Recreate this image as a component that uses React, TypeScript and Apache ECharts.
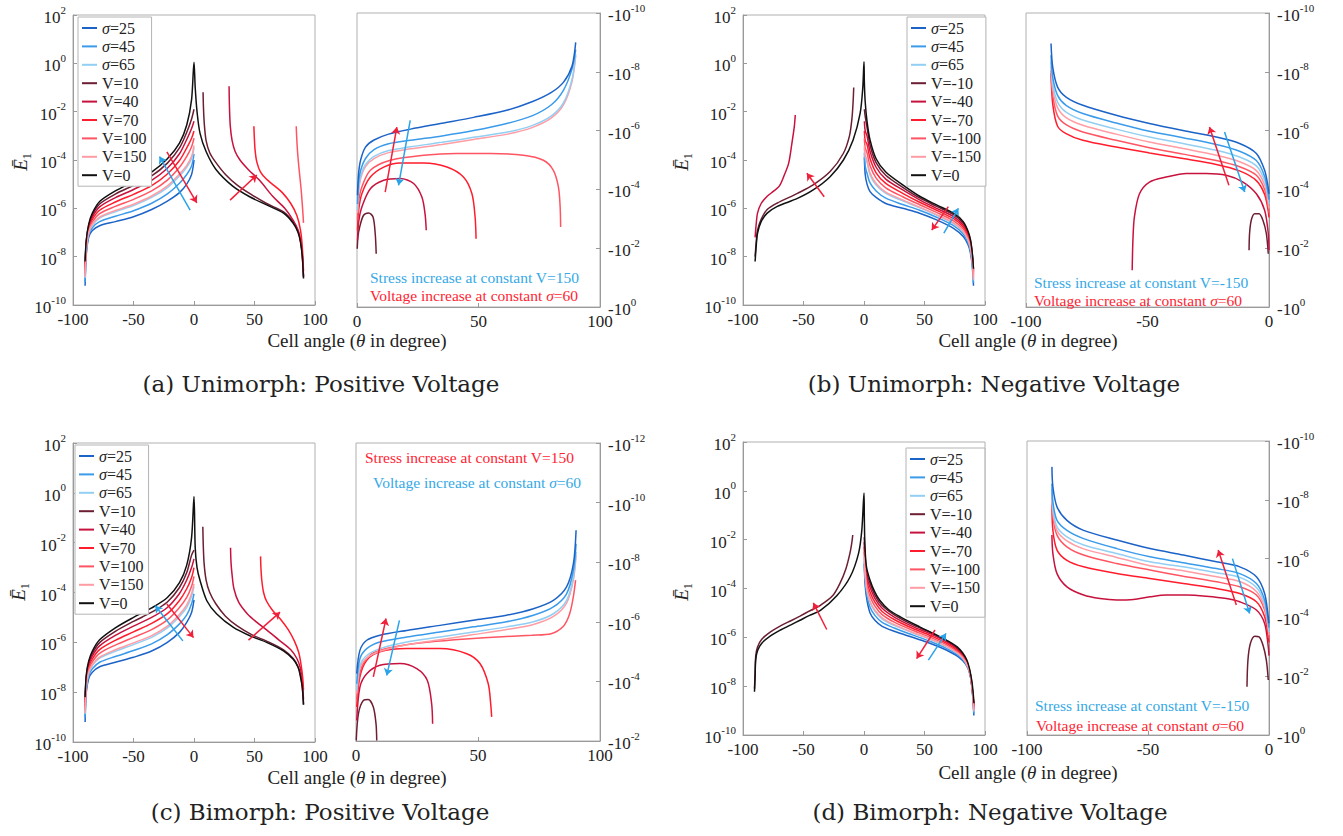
import React, { useEffect, useRef } from 'react';
import * as echarts from 'echarts';

// All curve values are log10 of |E1|.
// ---------------- Panel (a) Unimorph: Positive Voltage, left (E1 > 0) ----------------
const aLX = [-90, -89, -87, -84, -78, -65, -50, -35, -22, -12, -6, -2, 0];
const aL_s25 = [-9.2, -7.9, -7.2, -6.92, -6.72, -6.55, -6.35, -6.05, -5.7, -5.35, -5.0, -4.6, -4.0];
const aL_s45 = [-9.05, -7.8, -7.1, -6.8, -6.55, -6.33, -6.1, -5.79, -5.4, -4.96, -4.6, -4.25, -3.75];
const aL_s65 = [-8.88, -7.71, -7.02, -6.69, -6.4, -6.14, -5.89, -5.55, -5.14, -4.66, -4.3, -3.95, -3.5];
const aL_V150 = [-8.84, -7.68, -7.0, -6.66, -6.36, -6.09, -5.83, -5.49, -5.07, -4.58, -4.22, -3.85, -3.4];
const aL_V100 = [-8.7, -7.6, -6.93, -6.56, -6.22, -5.92, -5.63, -5.28, -4.83, -4.3, -3.85, -3.45, -3.1];
const aL_V70 = [-8.56, -7.52, -6.85, -6.46, -6.08, -5.74, -5.42, -5.06, -4.58, -4.02, -3.5, -3.1, -2.8];
const aL_V40 = [-8.42, -7.43, -6.77, -6.36, -5.94, -5.56, -5.22, -4.84, -4.34, -3.74, -3.15, -2.7, -2.4];
const aL_V10 = [-8.3, -7.36, -6.71, -6.27, -5.82, -5.41, -5.05, -4.66, -4.13, -3.5, -2.85, -2.3, -1.9];
const aV0X = [-90, -89, -87, -84, -78, -65, -50, -35, -22, -12, -6, -2, 0, 1, 2.5, 5, 10, 18, 32, 46, 60, 74, 82, 86, 88, 89.5, 90.5];
const aV0Y = [-8.2, -7.3, -6.65, -6.2, -5.72, -5.28, -4.9, -4.5, -3.95, -3.3, -2.55, -1.5, 0.05, -1.0, -2.0, -2.9, -3.65, -4.38, -5.08, -5.52, -5.86, -6.2, -6.62, -7.0, -7.4, -8.0, -8.9];
const aR_V10X = [7.5, 7.8, 8.5, 10, 13, 18, 26, 36, 48, 60, 74, 82, 86, 88, 89.5, 90.5];
const aR_V10Y = [-1.2, -1.8, -2.5, -3.2, -3.7, -4.1, -4.6, -5.05, -5.45, -5.8, -6.15, -6.57, -6.95, -7.35, -7.95, -8.85];
const aR_V40X = [29, 29.3, 30, 31.5, 34, 38, 45, 54, 65, 75, 82, 86, 88, 89.5, 90.5];
const aR_V40Y = [-0.95, -1.8, -2.6, -3.2, -3.65, -4.0, -4.4, -4.83, -5.5, -6.0, -6.5, -6.9, -7.3, -7.9, -8.8];
const aR_V70X = [49.5, 49.8, 50.5, 52, 55, 60, 66, 73, 80, 85, 88, 89.5, 90.5];
const aR_V70Y = [-2.6, -3.0, -3.6, -4.1, -4.5, -4.8, -5.05, -5.35, -5.8, -6.3, -6.9, -7.6, -8.6];
const aR_V100X = [84.5, 84.8, 85.5, 86.5, 87.5, 88.5, 89.3, 90, 90.5];
const aR_V100Y = [-2.6, -3.0, -3.6, -4.2, -4.7, -5.2, -5.7, -6.2, -6.6];
const aLeftArrows = [[-3.2, -6.07, -28.5, -3.86, 'b'], [-22.4, -3.66, 2.3, -5.77, 'r'], [29.8, -5.66, 51.9, -4.62, 'r']];

// ---------------- Panel (a) right (E1 < 0) ----------------
const arX = [0.2, 0.6, 1.5, 3.5, 7, 13, 22, 35, 48, 62, 72, 80, 85, 88.5, 90];
const ar_s25 = [-3.8, -4.5, -5.0, -5.44, -5.68, -5.88, -6.05, -6.25, -6.45, -6.7, -6.98, -7.3, -7.65, -8.2, -9.0];
const ar_s45 = [-3.5, -4.2, -4.65, -5.05, -5.35, -5.55, -5.67, -5.82, -6.0, -6.25, -6.5, -6.88, -7.38, -8.1, -8.75];
const ar_s65 = [-3.3, -3.95, -4.45, -4.85, -5.12, -5.32, -5.45, -5.6, -5.77, -5.95, -6.17, -6.5, -6.95, -7.75, -8.6];
const ar_V150 = [-3.2, -3.85, -4.37, -4.78, -5.05, -5.25, -5.38, -5.53, -5.7, -5.88, -6.1, -6.43, -6.88, -7.68, -8.55];
const ar_V100X = [0.2, 0.7, 2, 5.5, 13.7, 27.4, 41, 54.8, 68.5, 76.7, 80.8, 82.9, 83.6, 83.8];
const ar_V100Y = [-2.95, -3.6, -4.08, -4.65, -4.99, -5.16, -5.22, -5.22, -5.16, -4.99, -4.65, -4.08, -3.4, -2.72];
const ar_V70X = [0.2, 0.7, 2, 5.5, 11, 17.8, 27.4, 37, 43.8, 47.3, 48.6, 49];
const ar_V70Y = [-2.6, -3.3, -3.85, -4.42, -4.76, -4.9, -4.9, -4.76, -4.42, -3.85, -3.06, -2.32];
const ar_V40X = [0.2, 0.7, 2, 5.5, 11, 17.8, 23.3, 26.7, 28, 28.5];
const ar_V40Y = [-2.27, -2.9, -3.4, -4.02, -4.31, -4.37, -4.2, -3.74, -3.17, -2.61];
const ar_V10X = [0.1, 0.4, 1.1, 2.7, 4.8, 6.6, 7.5, 7.9];
const ar_V10Y = [-1.98, -2.4, -2.72, -3.12, -3.2, -3.06, -2.49, -1.81];
const aRightArrows = [[11.6, -3.91, 16.4, -6.12, 'r'], [21.9, -6.35, 17.1, -4.14, 'b']];

// ---------------- Panel (b) Unimorph: Negative Voltage, left ----------------
const bV0X = [-90, -89, -88, -85, -80, -72, -55, -42, -28, -17, -9, -3.2, -1, 0, 0.3, 1, 2.5, 5, 10, 18, 32, 46, 60, 74, 82, 86, 88, 89.5, 90.5];
const bV0Y = [-8.2, -7.5, -7.03, -6.55, -6.2, -5.93, -5.59, -5.24, -4.69, -4.0, -3.17, -2.07, -1.0, 0.07, -0.8, -1.6, -2.4, -3.17, -3.95, -4.5, -5.03, -5.5, -5.86, -6.2, -6.55, -6.95, -7.3, -7.85, -8.5];
const bL_V10X = [-90, -89, -88, -85, -80, -72, -55, -42, -28, -17, -12, -10, -9, -8.5];
const bL_V10Y = [-8.0, -7.35, -6.9, -6.45, -6.05, -5.79, -5.38, -5.03, -4.48, -3.72, -3.0, -2.3, -1.6, -1.0];
const bL_V40X = [-90, -89, -88, -85, -80, -75, -70, -66.4, -62.3, -59.6, -57.6, -56.8];
const bL_V40Y = [-7.2, -6.6, -6.2, -5.8, -5.5, -5.3, -5.08, -4.69, -4.14, -3.31, -2.62, -2.14];
const bRX = [0.3, 1, 2.5, 5, 10, 18, 32, 46, 60, 74, 82, 86, 88, 89.5, 90.5];
const bR_V10 = [-1.9, -2.2, -2.65, -3.38, -4.11, -4.63, -5.13, -5.57, -5.92, -6.26, -6.61, -7.0, -7.35, -7.9, -8.57];
const bR_V40 = [-2.4, -2.8, -3.0, -3.64, -4.3, -4.79, -5.24, -5.65, -6.0, -6.34, -6.69, -7.07, -7.42, -7.97, -8.65];
const bR_V70 = [-2.8, -3.2, -3.35, -3.94, -4.53, -4.97, -5.38, -5.75, -6.08, -6.43, -6.77, -7.15, -7.5, -8.05, -8.75];
const bR_V100 = [-3.1, -3.5, -3.7, -4.24, -4.75, -5.15, -5.52, -5.85, -6.17, -6.52, -6.86, -7.23, -7.58, -8.13, -8.85];
const bR_V150 = [-3.4, -3.8, -4.0, -4.54, -4.97, -5.33, -5.65, -5.95, -6.26, -6.6, -6.95, -7.3, -7.65, -8.2, -8.95];
const bR_s65 = [-3.5, -3.9, -4.1, -4.62, -5.04, -5.38, -5.69, -5.98, -6.28, -6.63, -6.97, -7.32, -7.67, -8.22, -8.98];
const bR_s45 = [-3.7, -4.25, -4.55, -4.95, -5.28, -5.58, -5.84, -6.08, -6.37, -6.72, -7.06, -7.41, -7.76, -8.31, -9.08];
const bR_s25 = [-3.9, -4.6, -5.0, -5.31, -5.55, -5.8, -6.0, -6.2, -6.48, -6.83, -7.17, -7.5, -7.85, -8.4, -9.2];
const bLeftArrows = [[-32.9, -5.52, -47.2, -4.55, 'r'], [69.7, -5.93, 56, -6.9, 'r'], [66, -7.03, 78, -6.0, 'b']];

// ---------------- Panel (b) right ----------------
const brX = [-89.7, -89, -87, -83.5, -76.6, -62.9, -49.2, -35.4, -21.7, -12.1, -5.2, -1.8, -0.4, 0];
const br_s25 = [-8.96, -8.16, -7.48, -7.14, -6.86, -6.52, -6.24, -6.0, -5.78, -5.56, -5.22, -4.65, -4.1, -3.85];
const br_s45 = [-8.56, -7.82, -7.2, -6.86, -6.58, -6.26, -5.98, -5.76, -5.53, -5.3, -4.98, -4.45, -3.9, -3.65];
const br_s65 = [-8.35, -7.6, -6.97, -6.63, -6.36, -6.05, -5.78, -5.56, -5.33, -5.1, -4.8, -4.3, -3.75, -3.5];
const br_V150 = [-8.2, -7.43, -6.78, -6.44, -6.18, -5.88, -5.61, -5.39, -5.16, -4.94, -4.64, -4.15, -3.6, -3.35];
const br_V100 = [-8.05, -7.2, -6.5, -6.2, -5.95, -5.67, -5.42, -5.2, -4.98, -4.77, -4.48, -4.0, -3.45, -3.2];
const br_V70 = [-7.95, -6.9, -6.15, -5.9, -5.67, -5.44, -5.24, -5.05, -4.85, -4.63, -4.3, -3.83, -3.3, -3.05];
const br_V40X = [-56.3, -56, -55.4, -53.3, -49.2, -42.3, -34, -25.8, -17.6, -10.7, -5.2, -1.8, -0.3, 0];
const br_V40Y = [-1.25, -2.27, -3.06, -3.85, -4.25, -4.42, -4.54, -4.54, -4.48, -4.25, -3.85, -3.29, -2.5, -1.93];
const br_V10X = [-8.2, -8, -7.3, -5.9, -4.1, -2.5, -1.1, -0.3];
const br_V10Y = [-1.93, -2.5, -2.95, -3.17, -3.17, -2.95, -2.5, -1.81];
const bRightArrows = [[-16.5, -4.14, -24.5, -6.12, 'r'], [-18.3, -5.95, -10, -3.91, 'b']];

// ---------------- Panel (c) Bimorph: Positive Voltage, left ----------------
const cLX = [-90, -89, -87, -84, -78, -65, -50, -35, -22, -12, -6, -2, 0];
const cL_s25 = [-9.2, -8.0, -7.45, -7.2, -6.98, -6.8, -6.6, -6.35, -6.0, -5.6, -5.2, -4.8, -4.3];
const cL_s45 = [-9.03, -7.88, -7.33, -7.06, -6.8, -6.57, -6.33, -6.06, -5.69, -5.26, -4.9, -4.45, -4.05];
const cL_s65 = [-8.88, -7.78, -7.23, -6.93, -6.63, -6.36, -6.09, -5.8, -5.42, -4.96, -4.6, -4.15, -3.75];
const cL_V150 = [-8.84, -7.75, -7.2, -6.9, -6.59, -6.3, -6.02, -5.73, -5.35, -4.88, -4.5, -4.05, -3.65];
const cL_V100 = [-8.7, -7.65, -7.1, -6.78, -6.44, -6.11, -5.8, -5.49, -5.1, -4.6, -4.2, -3.75, -3.35];
const cL_V70 = [-8.56, -7.55, -7.0, -6.66, -6.29, -5.92, -5.58, -5.24, -4.85, -4.32, -3.85, -3.4, -3.0];
const cL_V40 = [-8.42, -7.45, -6.9, -6.54, -6.14, -5.72, -5.35, -5.0, -4.6, -4.04, -3.5, -3.0, -2.65];
const cL_V10 = [-8.3, -7.37, -6.82, -6.44, -6.01, -5.56, -5.16, -4.79, -4.38, -3.8, -3.2, -2.5, -2.3];
const cV0X = [-90, -89, -87, -84, -78, -65, -50, -35, -22, -12, -6, -2, 0, 1, 2.5, 5, 10.6, 18.8, 32.6, 46.4, 60, 73.9, 82, 86, 87.6, 89.5, 90.5];
const cV0Y = [-8.2, -7.3, -6.75, -6.35, -5.9, -5.42, -5.0, -4.62, -4.2, -3.6, -2.9, -1.8, -0.15, -2.2, -3.0, -3.52, -4.33, -4.86, -5.4, -5.74, -6.0, -6.34, -6.68, -7.0, -7.29, -7.8, -8.5];
const cR_V10X = [7.3, 7.6, 8.3, 10, 13, 18, 26, 36, 48, 60, 74, 82, 86, 88, 89.5, 90.5];
const cR_V10Y = [-1.36, -2.0, -2.8, -3.5, -4.0, -4.45, -4.95, -5.35, -5.7, -5.95, -6.3, -6.65, -6.98, -7.3, -7.8, -8.5];
const cR_V40X = [30.2, 30.6, 31.5, 33, 37, 44, 52, 60, 70, 80, 85, 88, 89.5, 90.5];
const cR_V40Y = [-2.2, -2.8, -3.3, -3.85, -4.4, -4.85, -5.2, -5.5, -5.9, -6.3, -6.65, -7.05, -7.6, -8.3];
const cR_V70X = [55, 55.3, 56, 57.5, 60, 65, 72, 78, 83, 86.5, 88.5, 89.8, 90.5];
const cR_V70Y = [-2.55, -3.0, -3.5, -4.0, -4.35, -4.72, -5.1, -5.5, -5.95, -6.4, -6.9, -7.4, -7.9];
const cLeftArrows = [[-9.2, -5.94, -32, -4.53, 'b'], [-22.4, -4.46, -0.4, -5.81, 'r'], [45, -5.91, 71.1, -4.79, 'r']];

// ---------------- Panel (c) right ----------------
const crX = [0.3, 1.6, 4.4, 9.8, 20.8, 34.4, 48.1, 61.7, 72.7, 80.9, 86.3, 89.1, 90.2];
const cr_s25 = [-4.26, -5.04, -5.38, -5.55, -5.71, -5.88, -6.05, -6.22, -6.44, -6.72, -7.17, -7.95, -9.07];
const cr_s45 = [-3.92, -4.76, -5.1, -5.32, -5.49, -5.66, -5.83, -6.0, -6.22, -6.5, -6.94, -7.73, -8.62];
const cr_s65 = [-3.7, -4.54, -4.87, -5.1, -5.32, -5.49, -5.66, -5.83, -6.0, -6.27, -6.72, -7.5, -8.34];
const cr_V150 = [-3.6, -4.45, -4.78, -5.01, -5.23, -5.4, -5.57, -5.74, -5.91, -6.18, -6.63, -7.41, -8.25];
const cr_V100X = [0.3, 1.5, 3, 6, 10, 20, 30, 45, 60, 72, 80, 85, 87.5, 89, 90];
const cr_V100Y = [-3.4, -4.25, -4.6, -4.9, -5.05, -5.22, -5.32, -5.42, -5.5, -5.55, -5.6, -5.85, -6.25, -6.8, -7.4];
const cr_V70X = [0.3, 1.6, 4.4, 9.8, 20.8, 34.4, 45.4, 50.8, 54.2, 55.2, 55.6];
const cr_V70Y = [-3.14, -4.15, -4.71, -4.99, -5.1, -5.1, -4.93, -4.6, -3.92, -3.25, -2.81];
const cr_V40X = [0.3, 1.6, 4.4, 9.8, 18, 24.9, 29.2, 31, 31.4];
const cr_V40Y = [-2.69, -3.81, -4.26, -4.54, -4.6, -4.43, -4.04, -3.25, -2.58];
const cr_V10X = [0.1, 1, 3, 5, 7.1, 8.2, 8.5];
const cr_V10Y = [-2.02, -2.92, -3.36, -3.39, -3.14, -2.58, -2.02];
const cRightArrows = [[7.1, -4.15, 12.3, -6.11, 'r'], [17.8, -6.05, 12.6, -4.2, 'b']];

// ---------------- Panel (d) Bimorph: Negative Voltage, left ----------------
const dV0X = [-90.5, -90, -89.5, -88, -84.5, -77, -69, -60, -52.9, -45, -36, -22.5, -11.4, -4.5, -1.8, 0, 0.3, 0.8, 2, 5, 9, 13, 20, 30, 46, 63, 77, 85, 89, 90.9];
const dV0Y = [-8.23, -7.6, -6.93, -6.55, -6.24, -5.93, -5.7, -5.48, -5.3, -5.1, -4.9, -4.3, -3.52, -2.56, -1.61, -0.09, -1.2, -2.29, -3.1, -3.66, -4.15, -4.48, -4.85, -5.16, -5.57, -5.98, -6.39, -6.93, -7.75, -8.7];
const dL_V10X = [-90.5, -90, -89.5, -88, -84.5, -77, -69, -60, -52.9, -45, -36.4, -26, -19.8, -15, -11.6, -10, -9.3];
const dL_V10Y = [-8.1, -7.45, -6.78, -6.4, -6.08, -5.77, -5.53, -5.31, -5.13, -4.92, -4.7, -4.3, -3.78, -3.2, -2.55, -2.1, -1.81];
const dRX = [0.2, 1, 2.5, 5, 9, 15, 25, 40, 55, 68, 78, 84, 87.5, 89.5, 90.8];
const dR_V10 = [-1.9, -2.73, -3.42, -3.79, -4.27, -4.7, -5.08, -5.48, -5.8, -6.13, -6.49, -6.88, -7.41, -8.11, -8.75];
const dR_V40 = [-2.1, -2.9, -3.56, -3.95, -4.4, -4.81, -5.17, -5.55, -5.86, -6.18, -6.53, -6.91, -7.42, -8.12, -8.81];
const dR_V70 = [-2.3, -3.07, -3.73, -4.14, -4.56, -4.94, -5.27, -5.63, -5.93, -6.24, -6.58, -6.94, -7.44, -8.14, -8.88];
const dR_V100 = [-2.5, -3.25, -3.9, -4.33, -4.72, -5.07, -5.38, -5.71, -6.0, -6.3, -6.63, -6.98, -7.45, -8.15, -8.95];
const dR_V150 = [-2.7, -3.43, -4.07, -4.52, -4.89, -5.2, -5.48, -5.79, -6.07, -6.37, -6.67, -7.01, -7.46, -8.16, -9.02];
const dR_s65 = [-2.75, -3.48, -4.12, -4.57, -4.93, -5.25, -5.51, -5.81, -6.09, -6.38, -6.69, -7.02, -7.47, -8.17, -9.04];
const dR_s45 = [-2.9, -3.68, -4.3, -4.77, -5.1, -5.39, -5.62, -5.9, -6.17, -6.45, -6.74, -7.06, -7.48, -8.18, -9.12];
const dR_s25 = [-3.0, -3.9, -4.5, -5.0, -5.3, -5.55, -5.75, -6.0, -6.25, -6.52, -6.8, -7.1, -7.5, -8.2, -9.2];
const dLeftArrows = [[-30.8, -5.68, -41.9, -4.59, 'r'], [58.7, -5.7, 43.5, -6.87, 'r'], [53.2, -6.93, 67.8, -5.84, 'b']];

// ---------------- Panel (d) right ----------------
const drX = [-89.7, -89.3, -87.6, -83.5, -76.6, -62.9, -49.2, -35.4, -21.7, -12.1, -5.2, -1.8, -0.3, 0];
const dr_s25 = [-9.12, -8.44, -7.76, -7.3, -6.96, -6.63, -6.34, -6.12, -5.89, -5.72, -5.38, -4.81, -4.02, -3.8];
const dr_s45 = [-8.55, -7.93, -7.3, -6.96, -6.68, -6.34, -6.06, -5.86, -5.66, -5.49, -5.15, -4.59, -3.85, -3.65];
const dr_s65 = [-8.38, -7.7, -7.08, -6.74, -6.46, -6.17, -5.89, -5.72, -5.52, -5.36, -5.02, -4.47, -3.74, -3.5];
const dr_V150 = [-8.24, -7.57, -6.95, -6.6, -6.33, -6.04, -5.76, -5.59, -5.38, -5.22, -4.88, -4.34, -3.6, -3.4];
const dr_V100 = [-8.1, -7.42, -6.8, -6.4, -6.12, -5.83, -5.61, -5.4, -5.21, -5.04, -4.76, -4.25, -3.57, -3.3];
const dr_V70 = [-7.87, -6.96, -6.29, -5.94, -5.72, -5.49, -5.32, -5.15, -4.98, -4.81, -4.53, -4.02, -3.34, -3.15];
const dr_V40X = [-89.7, -89.3, -87.6, -83.5, -76.6, -69.8, -62.9, -56, -49.2, -42.3, -34, -26, -17.6, -12.1, -5.2, -1.8, -0.3, 0];
const dr_V40Y = [-6.8, -6.17, -5.49, -5.04, -4.76, -4.64, -4.59, -4.61, -4.7, -4.76, -4.76, -4.72, -4.64, -4.53, -4.25, -3.79, -3.0, -2.7];
const dr_V10X = [-9.1, -8.7, -7.7, -5.9, -4.1, -2.5, -1.1, -0.3];
const dr_V10Y = [-1.64, -2.55, -3.11, -3.36, -3.34, -3.06, -2.55, -1.87];
const dRightArrows = [[-13.5, -4.42, -21, -6.29, 'r'], [-15.1, -6.0, -8, -4.13, 'b']];

const posNames = ['σ=25', 'σ=45', 'σ=65', 'V=10', 'V=40', 'V=70', 'V=100', 'V=150', 'V=0'];
const negNames = ['σ=25', 'σ=45', 'σ=65', 'V=-10', 'V=-40', 'V=-70', 'V=-100', 'V=-150', 'V=0'];
const xTicksLeft = [-100, 100];
const xTicksRightPos = [0, 100];
const xTicksRightNeg = [-100, 0];

const F = "'Liberation Serif', 'Times New Roman', serif";
const COL: Record<string, string> = {
  s25: '#1c63c8', s45: '#3a9bea', s65: '#92cff3',
  V10: '#6c1e32', V40: '#c8123e', V70: '#ff1c2c', V100: '#ff5563', V150: '#ff9ca4', V0: '#111111',
};
const ARROW_B = '#2aa3e8';
const ARROW_R = '#f0203a';
const TXT_B = '#36a9e6';
const TXT_R = '#ff2433';

function line(g: number, name: string, key: string, xs: number[], ys: number[]) {
  return {
    type: 'line', name, xAxisIndex: g, yAxisIndex: g,
    data: xs.map((x, i) => [x, ys[i]]),
    symbol: 'none', smooth: 0.3, silent: true,
    lineStyle: { width: 1.5, color: COL[key] }, itemStyle: { color: COL[key] },
  };
}
function arrows(g: number, list: any[]) {
  return {
    type: 'lines', coordinateSystem: 'cartesian2d', xAxisIndex: g, yAxisIndex: g,
    symbol: ['none', 'arrow'], symbolSize: 7, silent: true, z: 5,
    lineStyle: { width: 1.5, opacity: 1 },
    data: list.map((a) => ({
      coords: [[a[0], a[1]], [a[2], a[3]]],
      lineStyle: { color: a[4] === 'b' ? ARROW_B : ARROW_R, width: 1.5, opacity: 1 },
    })),
  };
}

const supRich = {
  b: { fontFamily: F, fontSize: 17, color: '#222', lineHeight: 22, verticalAlign: 'bottom' },
  s: { fontFamily: F, fontSize: 11, color: '#222', lineHeight: 12, verticalAlign: 'top' },
};
const axLine = { show: true, onZero: false, lineStyle: { color: '#9a9a9a', width: 1 } };
const axTick = { show: true, inside: true, length: 4, lineStyle: { color: '#9a9a9a' } };

function xAxis(g: number, range: number[]) {
  return {
    type: 'value', gridIndex: g, min: range[0], max: range[1], interval: 50,
    axisLine: axLine, axisTick: axTick, splitLine: { show: false },
    axisLabel: { color: '#222', fontFamily: F, fontSize: 17, margin: 6 },
  };
}
function yLeft(g: number) {
  return {
    type: 'value', gridIndex: g, min: -10, max: 2, interval: 2,
    axisLine: axLine, axisTick: axTick, splitLine: { show: false },
    axisLabel: { formatter: (v: number) => `{b|10}{s|${v}}`, rich: supRich, margin: 7 },
  };
}
function yRight(g: number, min: number, max: number) {
  return {
    type: 'value', gridIndex: g, min, max, interval: 2, inverse: true, position: 'right',
    axisLine: axLine, axisTick: axTick, splitLine: { show: false },
    axisLabel: { formatter: (v: number) => `{b|-10}{s|${v}}`, rich: supRich, margin: 8 },
  };
}

function legend(left: number, top: number, names: string[]) {
  return {
    left, top, orient: 'vertical', data: names, selectedMode: false,
    icon: 'rect', itemWidth: 15, itemHeight: 2, itemGap: 2.4,
    padding: [3, 5, 3, 4], borderColor: '#b4b4b4', borderWidth: 1, backgroundColor: '#ffffff',
    textStyle: {
      fontFamily: F, fontSize: 16, color: '#222', lineHeight: 16,
      rich: { i: { fontFamily: F, fontSize: 16, fontStyle: 'italic', color: '#222', lineHeight: 16 } },
    },
    formatter: (n: string) => (n.startsWith('σ') ? '{i|σ}' + n.slice(1) : n),
  };
}

function text(x: number, y: number, t: string, opts: any = {}) {
  return {
    type: 'text', x, y, silent: true, z: 10,
    style: {
      text: t, fill: opts.fill || '#222', fontFamily: opts.fontFamily || F, fontSize: opts.fontSize || 19,
      align: opts.align || 'center', verticalAlign: 'middle',
      rich: {
        i: { fontStyle: 'italic', fontFamily: F, fontSize: opts.fontSize || 19, fill: opts.fill || '#222' },
      },
    },
  };
}
function yName(x: number, y: number) {
  return {
    type: 'text', x, y, rotation: Math.PI / 2, silent: true,
    style: {
      text: '{e|Ē}{s|1}', align: 'center', verticalAlign: 'middle',
      rich: {
        e: { fontFamily: F, fontStyle: 'italic', fontSize: 19, fill: '#222', lineHeight: 22, verticalAlign: 'top' },
        s: { fontFamily: F, fontSize: 12, fill: '#222', lineHeight: 14, verticalAlign: 'bottom' },
      },
    },
  };
}

function buildOption() {
  const grids = [
    { left: 73, top: 15, width: 242, height: 290 },
    { left: 357, top: 13, width: 243, height: 294 },
    { left: 743, top: 15, width: 242, height: 290 },
    { left: 1026, top: 13, width: 243, height: 294 },
    { left: 73, top: 443, width: 242, height: 299 },
    { left: 356, top: 443, width: 244, height: 298 },
    { left: 743, top: 442, width: 242, height: 293 },
    { left: 1027, top: 441, width: 242, height: 294 },
  ].map((g) => ({ ...g, show: true, borderColor: '#b0b0b0', borderWidth: 1, backgroundColor: 'transparent' }));

  const xAxes = [
    xAxis(0, xTicksLeft), xAxis(1, xTicksRightPos), xAxis(2, xTicksLeft), xAxis(3, xTicksRightNeg),
    xAxis(4, xTicksLeft), xAxis(5, xTicksRightPos), xAxis(6, xTicksLeft), xAxis(7, xTicksRightNeg),
  ];
  const yAxes = [
    yLeft(0), yRight(1, -10, 0), yLeft(2), yRight(3, -10, 0),
    yLeft(4), yRight(5, -12, -2), yLeft(6), yRight(7, -10, 0),
  ];

  const P = posNames;
  const N = negNames;
  const series: any[] = [
    // (a) left
    line(0, P[0], 's25', aLX, aL_s25), line(0, P[1], 's45', aLX, aL_s45), line(0, P[2], 's65', aLX, aL_s65),
    line(0, P[3], 'V10', aLX, aL_V10), line(0, P[4], 'V40', aLX, aL_V40), line(0, P[5], 'V70', aLX, aL_V70),
    line(0, P[6], 'V100', aLX, aL_V100), line(0, P[7], 'V150', aLX, aL_V150),
    line(0, P[3], 'V10', aR_V10X, aR_V10Y), line(0, P[4], 'V40', aR_V40X, aR_V40Y),
    line(0, P[5], 'V70', aR_V70X, aR_V70Y), line(0, P[6], 'V100', aR_V100X, aR_V100Y),
    line(0, P[8], 'V0', aV0X, aV0Y),
    arrows(0, aLeftArrows),
    // (a) right
    line(1, P[3], 'V10', ar_V10X, ar_V10Y), line(1, P[4], 'V40', ar_V40X, ar_V40Y),
    line(1, P[5], 'V70', ar_V70X, ar_V70Y), line(1, P[6], 'V100', ar_V100X, ar_V100Y),
    line(1, P[7], 'V150', arX, ar_V150), line(1, P[2], 's65', arX, ar_s65),
    line(1, P[1], 's45', arX, ar_s45), line(1, P[0], 's25', arX, ar_s25),
    arrows(1, aRightArrows),
    // (b) left
    line(2, N[0], 's25', bRX, bR_s25), line(2, N[1], 's45', bRX, bR_s45), line(2, N[2], 's65', bRX, bR_s65),
    line(2, N[3], 'V10', bRX, bR_V10), line(2, N[4], 'V40', bRX, bR_V40), line(2, N[5], 'V70', bRX, bR_V70),
    line(2, N[6], 'V100', bRX, bR_V100), line(2, N[7], 'V150', bRX, bR_V150),
    line(2, N[4], 'V40', bL_V40X, bL_V40Y), line(2, N[3], 'V10', bL_V10X, bL_V10Y),
    line(2, N[8], 'V0', bV0X, bV0Y),
    arrows(2, bLeftArrows),
    // (b) right
    line(3, N[3], 'V10', br_V10X, br_V10Y), line(3, N[4], 'V40', br_V40X, br_V40Y),
    line(3, N[5], 'V70', brX, br_V70), line(3, N[6], 'V100', brX, br_V100),
    line(3, N[7], 'V150', brX, br_V150), line(3, N[2], 's65', brX, br_s65),
    line(3, N[1], 's45', brX, br_s45), line(3, N[0], 's25', brX, br_s25),
    arrows(3, bRightArrows),
    // (c) left
    line(4, P[0], 's25', cLX, cL_s25), line(4, P[1], 's45', cLX, cL_s45), line(4, P[2], 's65', cLX, cL_s65),
    line(4, P[3], 'V10', cLX, cL_V10), line(4, P[4], 'V40', cLX, cL_V40), line(4, P[5], 'V70', cLX, cL_V70),
    line(4, P[6], 'V100', cLX, cL_V100), line(4, P[7], 'V150', cLX, cL_V150),
    line(4, P[3], 'V10', cR_V10X, cR_V10Y), line(4, P[4], 'V40', cR_V40X, cR_V40Y),
    line(4, P[5], 'V70', cR_V70X, cR_V70Y),
    line(4, P[8], 'V0', cV0X, cV0Y),
    arrows(4, cLeftArrows),
    // (c) right
    line(5, P[3], 'V10', cr_V10X, cr_V10Y), line(5, P[4], 'V40', cr_V40X, cr_V40Y),
    line(5, P[5], 'V70', cr_V70X, cr_V70Y), line(5, P[6], 'V100', cr_V100X, cr_V100Y),
    line(5, P[7], 'V150', crX, cr_V150), line(5, P[2], 's65', crX, cr_s65),
    line(5, P[1], 's45', crX, cr_s45), line(5, P[0], 's25', crX, cr_s25),
    arrows(5, cRightArrows),
    // (d) left
    line(6, N[0], 's25', dRX, dR_s25), line(6, N[1], 's45', dRX, dR_s45), line(6, N[2], 's65', dRX, dR_s65),
    line(6, N[3], 'V10', dRX, dR_V10), line(6, N[4], 'V40', dRX, dR_V40), line(6, N[5], 'V70', dRX, dR_V70),
    line(6, N[6], 'V100', dRX, dR_V100), line(6, N[7], 'V150', dRX, dR_V150),
    line(6, N[3], 'V10', dL_V10X, dL_V10Y),
    line(6, N[8], 'V0', dV0X, dV0Y),
    arrows(6, dLeftArrows),
    // (d) right
    line(7, N[3], 'V10', dr_V10X, dr_V10Y), line(7, N[4], 'V40', dr_V40X, dr_V40Y),
    line(7, N[5], 'V70', drX, dr_V70), line(7, N[6], 'V100', drX, dr_V100),
    line(7, N[7], 'V150', drX, dr_V150), line(7, N[2], 's65', drX, dr_s65),
    line(7, N[1], 's45', drX, dr_s45), line(7, N[0], 's25', drX, dr_s25),
    arrows(7, dRightArrows),
  ];

  const cap = { fontFamily: "'DejaVu Serif', serif", fontSize: 23 };
  const ann = { fontSize: 15.5, align: 'left' };
  const graphic = [
    text(357, 340, 'Cell angle ({i|θ} in degree)'),
    text(1028, 340, 'Cell angle ({i|θ} in degree)'),
    text(357, 777, 'Cell angle ({i|θ} in degree)'),
    text(1028, 772, 'Cell angle ({i|θ} in degree)'),
    yName(22, 162), yName(683, 162), yName(20, 592), yName(683, 592),
    text(321, 384, '(a) Unimorph: Positive Voltage', cap),
    text(994, 384, '(b) Unimorph: Negative Voltage', cap),
    text(320, 812, '(c) Bimorph: Positive Voltage', cap),
    text(990, 812, '(d) Bimorph: Negative Voltage', cap),
    text(370, 277, 'Stress increase at constant V=150', { ...ann, fill: TXT_B }),
    text(370, 295, 'Voltage increase at constant {i|σ}=60', { ...ann, fill: TXT_R }),
    text(1034, 282, 'Stress increase at constant V=-150', { ...ann, fill: TXT_B }),
    text(1034, 300, 'Voltage increase at constant {i|σ}=60', { ...ann, fill: TXT_R }),
    text(365, 457, 'Stress increase at constant V=150', { ...ann, fill: TXT_R }),
    text(373, 482, 'Voltage increase at constant {i|σ}=60', { ...ann, fill: TXT_B }),
    text(1035, 705, 'Stress increase at constant V=-150', { ...ann, fill: TXT_B }),
    text(1036, 725, 'Voltage increase at constant {i|σ}=60', { ...ann, fill: TXT_R }),
  ];

  return {
    animation: false,
    backgroundColor: '#ffffff',
    grid: grids,
    xAxis: xAxes,
    yAxis: yAxes,
    legend: [legend(78, 17, posNames), legend(907, 17, negNames), legend(75, 445, posNames), legend(906, 448, negNames)],
    series,
    graphic,
  };
}

export default function App() {
  const ref = useRef<HTMLDivElement>(null);
  useEffect(() => {
    if (!ref.current) return;
    const chart = echarts.init(ref.current, null, { renderer: 'svg' });
    chart.setOption(buildOption() as any);
    return () => chart.dispose();
  }, []);
  return (
    <div
      ref={ref}
      style={{ position: 'absolute', left: 0, top: 0, width: 1343, height: 836, background: '#fff' }}
    />
  );
}
